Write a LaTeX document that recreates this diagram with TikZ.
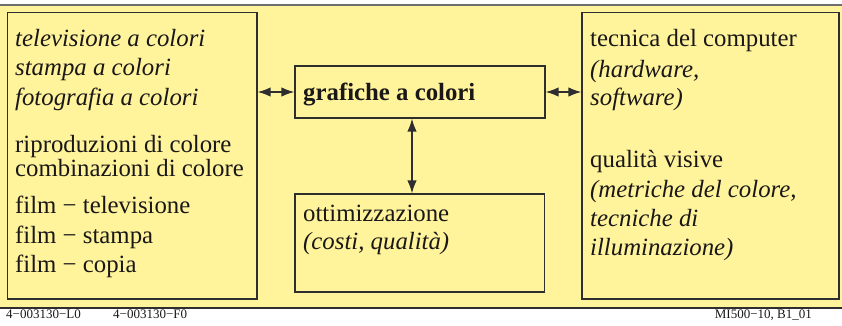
\documentclass[tikz,border=0pt]{standalone}
\usepackage{fontspec}
\setmainfont{Liberation Serif}
\usetikzlibrary{arrows.meta}
\definecolor{bgyellow}{HTML}{FFF49B}
\definecolor{linegray}{HTML}{2E2E2E}
\definecolor{topgray}{HTML}{6E6E6E}
\definecolor{txt}{HTML}{1A1718}
\tikzset{
  boxnode/.style={draw=linegray, line width=1.3pt, inner sep=0pt},
  txtline/.style={anchor=base west, inner sep=0pt, text=txt, font=\fontsize{24.8}{28}\selectfont},
  txtit/.style={txtline, font=\fontsize{24.8}{28}\selectfont\itshape},
  txtbf/.style={txtline, font=\fontsize{24.8}{28}\selectfont\bfseries},
  foot/.style={anchor=base west, inner sep=0pt, text=txt, font=\fontsize{13}{15}\selectfont},
  dblarrow/.style={draw=linegray, line width=1.4pt, {Latex[length=13pt,width=9.5pt]}-{Latex[length=13pt,width=9.5pt]}}
}
\begin{document}
\begin{tikzpicture}[x=1pt,y=-1pt]
\useasboundingbox (0,0) rectangle (842,325);
\fill[bgyellow] (0,5) rectangle (842,308);
\draw[topgray, line width=2pt] (0,5) -- (842,5);
\draw[linegray, line width=2pt] (0,308) -- (842,308);

% boxes
\node[boxnode, minimum width=249.3pt, minimum height=286.3pt] (L) at (132.35,155.85) {};
\node[boxnode, minimum width=257pt, minimum height=286.3pt] (R) at (710.5,155.85) {};
\node[boxnode, minimum width=250pt, minimum height=52pt] (G) at (420,92) {};
\node[boxnode, minimum width=249.5pt, minimum height=98pt] (O) at (419.75,243) {};

% left box text
\node[txtit] (l1) at (15,46) {televisione a colori};
\node[txtit] (l2) at (15,75.5) {stampa a colori};
\node[txtit] (l3) at (15,105) {fotografia a colori};
\node[txtline] (l4) at (15,152) {riproduzioni di colore};
\node[txtline] (l5) at (15,176) {combinazioni di colore};
\node[txtline] (l6) at (15,213) {film − televisione};
\node[txtline] (l7) at (15,243) {film − stampa};
\node[txtline] (l8) at (15,272) {film − copia};

% right box text
\node[txtline] (r1) at (590,46) {tecnica del computer};
\node[txtit] (r2) at (590,77) {(hardware,};
\node[txtit] (r3) at (590,105) {software)};
\node[txtline] (r4) at (590,167) {qualità visive};
\node[txtit] (r5) at (590,197) {(metriche del colore,};
\node[txtit] (r6) at (590,226) {tecniche di};
\node[txtit] (r7) at (590,255) {illuminazione)};

% middle texts
\node[txtbf] (g1) at (303,100) {grafiche a colori};
\node[txtline] (o1) at (303,221) {ottimizzazione};
\node[txtit] (o2) at (303,249) {(costi, qualità)};

% connectors
\coordinate (vx) at (412,0);
\draw[dblarrow] (G.west -| L.east) -- (G.west);
\draw[dblarrow] (G.east) -- (G.east -| R.west);
\draw[dblarrow] (G.south -| vx) -- (O.north -| vx);

% footer
\node[foot] (f1) at (6,318) {4−003130−L0};
\node[foot] (f2) at (113,318) {4−003130−F0};
\node[foot, anchor=base east] (f3) at (812,318) {MI500−10, B1\_01};
\end{tikzpicture}
\end{document}
